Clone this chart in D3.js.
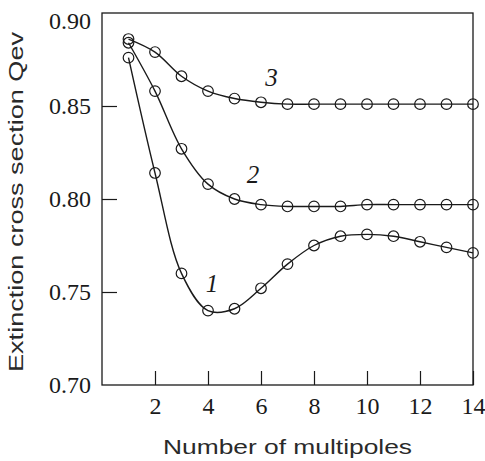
<!DOCTYPE html>
<html><head><meta charset="utf-8">
<script src="https://cdn.jsdelivr.net/npm/d3@7"></script>
<style>
html,body{margin:0;padding:0;background:#fff;}
svg{display:block;}
.serif{font-family:"Liberation Serif","Times New Roman",Times,serif;}
.sans{font-family:"Liberation Sans",Arial,Helvetica,sans-serif;}
</style></head>
<body>
<svg id="chart" width="485" height="461"></svg>
<script>
const multipoles = [1,2,3,4,5,6,7,8,9,10,11,12,13,14];
const series1 = [0.876,0.814,0.760,0.740,0.741,0.752,0.765,0.775,0.780,0.781,0.780,0.777,0.774,0.771];
const series2 = [0.884,0.858,0.827,0.808,0.800,0.797,0.796,0.796,0.796,0.797,0.797,0.797,0.797,0.797];
const series3 = [0.886,0.879,0.866,0.858,0.854,0.852,0.851,0.851,0.851,0.851,0.851,0.851,0.851,0.851];
const seriesNames = ["1","2","3"];
const xTicks = [2,4,6,8,10,12,14];
const yTicks = [0.70,0.75,0.80,0.85,0.90];
const labelPos = [[4.15,0.750],[5.7,0.8086],[6.4,0.861]];

const svg = d3.select("#chart");
const L = 102, R = 473, T = 13, B = 385;
const x = d3.scaleLinear().domain([0,14]).range([L,R]);
const y = d3.scaleLinear().domain([0.70,0.90]).range([B,T]);
const ink = "#1a1a1a";

// frame
svg.append("rect").attr("x",L).attr("y",T).attr("width",R-L).attr("height",B-T)
  .attr("fill","none").attr("stroke",ink).attr("stroke-width",1.3);

// x axis
const gx = svg.append("g").attr("transform",`translate(0,${B})`)
  .call(d3.axisBottom(x).tickValues(xTicks).tickSizeInner(-14).tickSizeOuter(0).tickPadding(13).tickFormat(d3.format("d")));
gx.attr("font-family",null).attr("font-size",null);
gx.select(".domain").remove();
gx.selectAll("line").attr("stroke",ink).attr("stroke-width",1.2);
gx.selectAll("text").attr("class","serif")
  .style("font-size","24px").attr("fill",ink).attr("dy","0.68em");

// y axis
const gy = svg.append("g").attr("transform",`translate(${L},0)`)
  .call(d3.axisLeft(y).tickValues(yTicks).tickSizeInner(-15).tickSizeOuter(0).tickPadding(11).tickFormat(d3.format(".2f")));
gy.attr("font-family",null).attr("font-size",null);
gy.select(".domain").remove();
gy.selectAll("line").attr("stroke",ink).attr("stroke-width",1.2);
gy.selectAll(".tick").filter(d => d === 0.90 || d === 0.70).select("line").remove();
gy.selectAll("text").attr("class","serif")
  .style("font-size","24px").attr("fill",ink).attr("dy","0.33em");
gy.selectAll(".tick").filter(d => d === 0.90).select("text").attr("dy","0.66em");

// curves
const all = [series1, series2, series3];
const line = d3.line().x((d,i)=>x(multipoles[i])).y(d=>y(d)).curve(d3.curveCatmullRom.alpha(0.5));
all.forEach((s,k) => {
  svg.append("path").datum(s).attr("d",line).attr("fill","none")
    .attr("stroke",ink).attr("stroke-width",1.4);
});
all.forEach((s,k) => {
  svg.append("g").selectAll("circle").data(s).join("circle")
    .attr("cx",(d,i)=>x(multipoles[i])).attr("cy",d=>y(d)).attr("r",5.3)
    .attr("fill","none").attr("stroke",ink).attr("stroke-width",1.2);
});

// series labels
seriesNames.forEach((n,k) => {
  svg.append("text").attr("class","serif").attr("x",x(labelPos[k][0])).attr("y",y(labelPos[k][1]))
    .attr("text-anchor","middle")
    .style("font-style","italic").style("font-size","25px").attr("fill",ink).text(n);
});

// axis titles
svg.append("text").attr("class","sans").attr("x",287.5).attr("y",454).attr("text-anchor","middle")
  .style("font-size","21px").attr("fill","#2a2a2a")
  .attr("textLength",249).attr("lengthAdjust","spacingAndGlyphs")
  .text("Number of multipoles");
svg.append("text").attr("class","sans").attr("transform","translate(23,202) rotate(-90)").attr("text-anchor","middle")
  .style("font-size","21px").attr("fill","#2a2a2a")
  .attr("textLength",340).attr("lengthAdjust","spacingAndGlyphs")
  .text("Extinction cross section Qev");
</script>
</body></html>
